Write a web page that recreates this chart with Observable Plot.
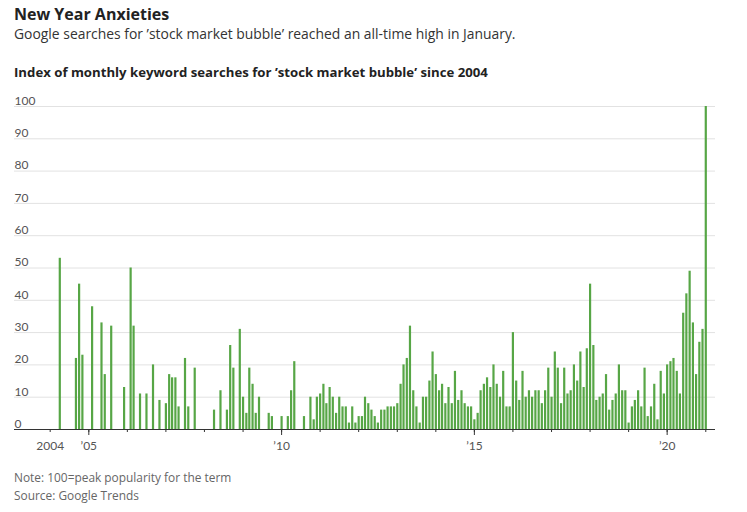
<!DOCTYPE html>
<html><head><meta charset="utf-8">
<script src="https://cdn.jsdelivr.net/npm/d3@7"></script>
<script src="https://cdn.jsdelivr.net/npm/@observablehq/plot@0.6"></script>
<style>
body{margin:0;background:#fff;font-family:"Open Sans","Noto Sans",sans-serif;color:#222;width:747px;height:512px;overflow:hidden;position:relative}
.t{position:absolute;left:14px;white-space:nowrap}
#title{top:5px;font-size:16px;font-weight:700;line-height:1.2;color:#222}
#subtitle{top:25.5px;font-size:13.9px;line-height:1.2;color:#333}
#label{top:65px;font-size:13.2px;font-weight:700;line-height:1.2;color:#222}
#chart{position:absolute;left:0;top:88px}
#note{top:467.5px;font-size:11.9px;line-height:18px;color:#666}
</style></head>
<body>
<div class="t" id="title">New Year Anxieties</div>
<div class="t" id="subtitle">Google searches for ’stock market bubble’ reached an all-time high in January.</div>
<div class="t" id="label">Index of monthly keyword searches for ’stock market bubble’ since 2004</div>
<div id="chart"></div>
<div class="t" id="note">Note: 100=peak popularity for the term<br>Source: Google Trends</div>
<script>
// Monthly search index, Jan 2004 .. Jan 2021
const startYear = 2004;
const searchIndex = [
  0,0,0,53,0,0,0,0,22,45,23,0,        // 2004
  0,38,0,0,33,17,0,32,0,0,0,13,       // 2005
  0,50,32,0,11,0,11,0,20,0,9,0,       // 2006
  8,17,16,16,7,0,22,7,0,19,0,0,       // 2007
  0,0,0,6,0,12,0,6,26,19,0,31,        // 2008
  10,5,19,14,5,10,0,0,5,4,0,0,        // 2009
  4,0,4,12,21,0,0,4,0,10,3,10,        // 2010
  11,14,8,13,10,5,10,7,7,2,7,2,       // 2011
  4,4,10,8,6,4,2,6,6,7,7,7,           // 2012
  8,14,20,22,32,12,7,2,10,10,15,24,   // 2013
  17,12,14,8,13,8,18,9,12,8,7,7,      // 2014
  3,5,12,14,16,13,20,14,10,18,7,7,    // 2015
  30,15,9,18,10,12,10,12,12,8,12,19,  // 2016
  10,24,19,8,19,11,12,20,15,24,13,25, // 2017
  45,26,9,10,11,17,6,9,11,20,12,12,   // 2018
  2,7,9,12,7,19,4,7,14,3,18,11,       // 2019
  20,21,22,18,11,36,42,49,33,17,27,31,// 2020
  100                                  // 2021
];
const yTicks = [0,10,20,30,40,50,60,70,80,90,100];
const tickYears = [2004,2005,2006,2007,2008,2009,2010,2011,2012,2013,2014,2015,2016,2017,2018,2019,2020,2021];
const labelYears = [2004,2005,2010,2015,2020];
const tickLabels = ["2004","’05","’10","’15","’20"];

const barColor = "#57a646";
const data = searchIndex.map((v,i)=>({date:new Date(Date.UTC(startYear,i,1)), value:v})).filter(d=>d.value>0);
const yearDate = y => new Date(Date.UTC(y,0,1));
const labelOf = new Map(labelYears.map((y,i)=>[+yearDate(y), tickLabels[i]]));

const chart = Plot.plot({
  width: 747, height: 370,
  marginLeft: 14, marginRight: 32, marginTop: 18, marginBottom: 29,
  x: {type:"utc", domain:[new Date(Date.UTC(2003,0,28)), new Date(Date.UTC(2021,3,3))]},
  y: {domain:[0,100]},
  style: {fontFamily:"Lato, 'Noto Sans', sans-serif", fontSize:"12px", color:"#555", background:"white", overflow:"visible"},
  marks: [
    Plot.gridY(yTicks.filter(d=>d>0), {stroke:"#e2e2e2", strokeOpacity:1, strokeWidth:1}),
    Plot.axisY(yTicks, {tickSize:0, tickPadding:0, textAnchor:"start", dy:-5.5, label:null, fill:"#555"}),
    Plot.ruleX(data, {x:"date", y1:0, y2:"value", stroke:barColor, strokeWidth:2.2}),
    Plot.ruleY([0], {stroke:"#333", strokeWidth:1.2}),
    Plot.axisX(tickYears.map(yearDate), {tickSize:3, tickFormat:()=>"", label:null, stroke:"#333"}),
    Plot.axisX(labelYears.slice(1).map(yearDate), {tickSize:6, tickFormat:()=>"", label:null, stroke:"#333"}),
    Plot.axisX(labelYears.map(yearDate), {tickSize:0, tickPadding:12, tickFormat:d=>labelOf.get(+d), label:null, fill:"#555"})
  ]
});
document.getElementById("chart").appendChild(chart);
</script>
</body></html>
